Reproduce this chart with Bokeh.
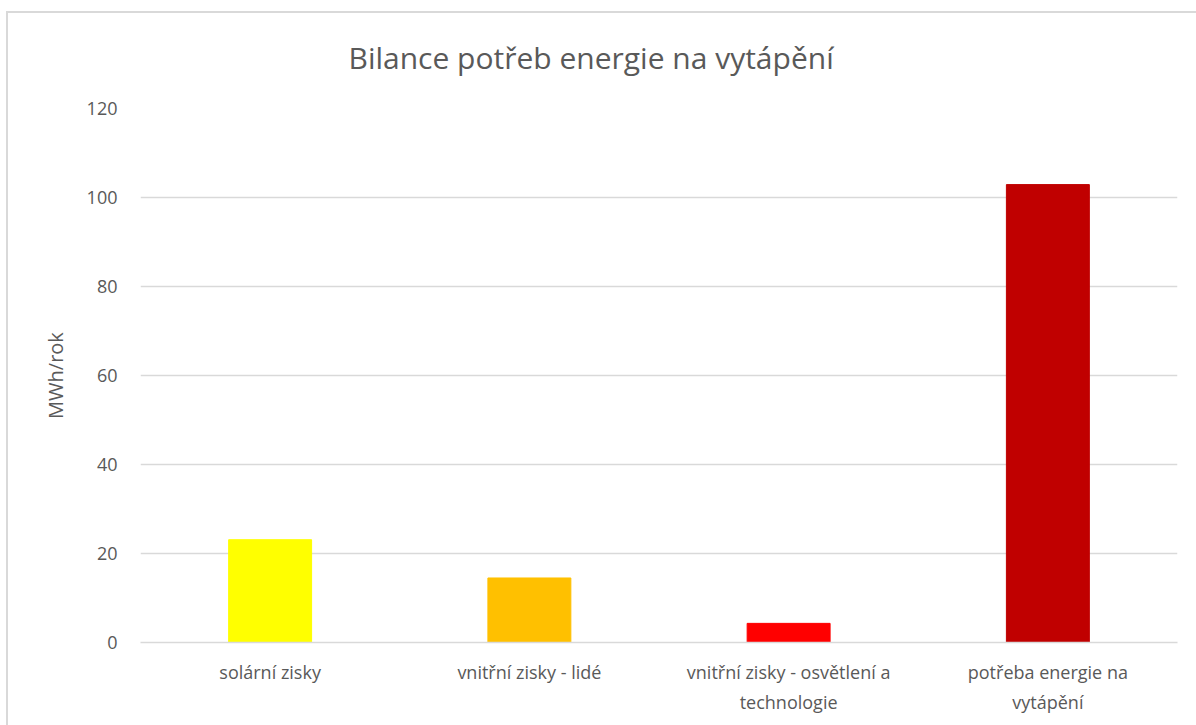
from bokeh.plotting import figure
from bokeh.models import Range1d, ColumnDataSource, FixedTicker, CategoricalAxis, FactorRange
from bokeh.embed import file_html
from bokeh.resources import INLINE

categories = ["solární zisky", "vnitřní zisky - lidé",
              "vnitřní zisky - osvětlení a technologie",
              "potřeba energie na vytápění"]
tick_labels = ["solární zisky", "vnitřní zisky - lidé",
               "vnitřní zisky - osvětlení a\ntechnologie",
               "potřeba energie na\nvytápění"]
values = [23.1, 14.5, 4.3, 102.9]
colors = ["#FFFF00", "#FFC000", "#FF0000", "#C00000"]
y_ticks = [0, 20, 40, 60, 80, 100, 120]

FONT = "Open Sans"
TXT = "#595959"
GRID = "#D9D9D9"

src = ColumnDataSource(dict(cat=categories, val=values, color=colors))

p = figure(x_range=categories, y_range=Range1d(0, 120),
           width=1196, height=725, output_backend="svg",
           toolbar_location=None, x_axis_location=None,
           title="Bilance potřeb energie na vytápění",
           min_border_left=140, min_border_right=19,
           min_border_top=108, min_border_bottom=83)

p.vbar(x="cat", top="val", width=0.32, color="color", source=src)

p.title.align = "left"
p.title.offset = 208
p.title.text_font = FONT
p.title.text_font_size = "30px"
p.title.text_font_style = "normal"
p.title.text_color = TXT
p.title.standoff = 62

p.outline_line_color = None
p.border_fill_color = None
p.background_fill_color = "white"
p.xgrid.grid_line_color = None
p.ygrid.grid_line_color = GRID
p.ygrid.grid_line_width = 1.5
p.yaxis.ticker = FixedTicker(ticks=y_ticks)

p.yaxis.axis_line_color = None
p.yaxis.major_tick_line_color = None
p.yaxis.minor_tick_line_color = None
p.yaxis.major_label_standoff = 17
p.yaxis.major_label_text_font = FONT
p.yaxis.major_label_text_font_size = "18px"
p.yaxis.major_label_text_color = TXT
p.yaxis.axis_label = "MWh/rok"
p.yaxis.axis_label_text_font = FONT
p.yaxis.axis_label_text_font_size = "20px"
p.yaxis.axis_label_text_font_style = "normal"
p.yaxis.axis_label_text_color = TXT
p.yaxis.axis_label_standoff = 15

# category labels: first and second text lines on two stacked axes
line1 = [t.split("\n")[0] for t in tick_labels]
line2 = [t.split("\n")[1] if "\n" in t else " " * (i + 1) for i, t in enumerate(tick_labels)]
p.extra_x_ranges = {"l1": FactorRange(factors=line1), "l2": FactorRange(factors=line2)}

xa = CategoricalAxis(x_range_name="l1", axis_line_color=GRID, axis_line_width=1.5,
                     major_tick_line_color=None, minor_tick_line_color=None,
                     major_label_standoff=11, major_label_text_font=FONT,
                     major_label_text_font_size="18px", major_label_text_color=TXT)
xa2 = CategoricalAxis(x_range_name="l2", axis_line_color=None,
                      major_tick_line_color=None, minor_tick_line_color=None,
                      major_label_standoff=-3, major_label_text_font=FONT,
                      major_label_text_font_size="18px", major_label_text_color=TXT)
p.add_layout(xa, "below")
p.add_layout(xa2, "below")

# outer chart border (left and top edges visible) drawn as page background
p.styles = {
    "background-color": "white",
    "background-image": "linear-gradient(#D9D9D9, #D9D9D9), linear-gradient(#D9D9D9, #D9D9D9)",
    "background-position": "6px 11px, 6px 11px",
    "background-size": "2px 100%, 100% 2px",
    "background-repeat": "no-repeat",
}

open("out.html", "w").write(file_html(p, INLINE))
